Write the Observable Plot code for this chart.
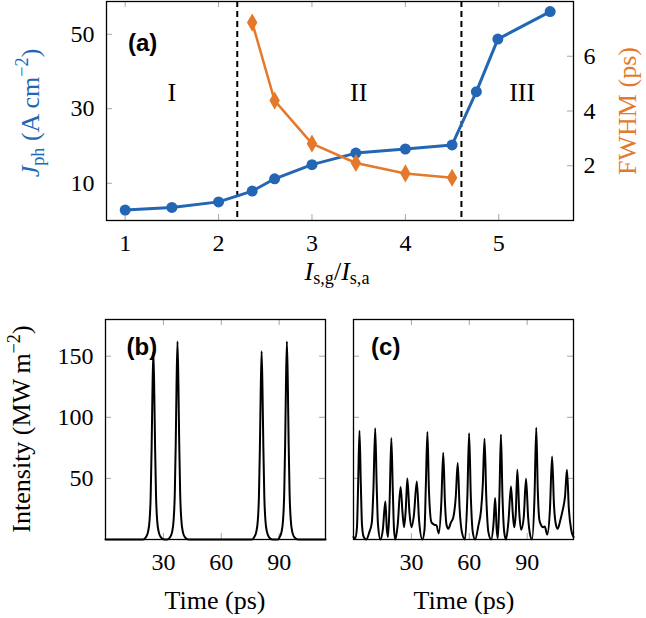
<!DOCTYPE html>
<html><head><meta charset="utf-8">
<script src="https://cdn.jsdelivr.net/npm/d3@7"></script>
<script src="https://cdn.jsdelivr.net/npm/@observablehq/plot@0.6"></script>
<style>
body{margin:0;background:#fff;}
#wrap{position:relative;width:646px;height:618px;overflow:hidden;font-family:'Liberation Serif',serif;}
.panel{position:absolute;}
.lbl{position:absolute;white-space:nowrap;font-size:26px;line-height:1;transform:translate(-50%,-50%);}
.rot{transform:translate(-50%,-50%) rotate(-90deg);}
sub{font-size:70%;vertical-align:-0.25em;}
sup{font-size:70%;vertical-align:0.6em;}
</style></head><body><div id="wrap"></div>
<script>
// ---- Panel (a) data ----
const ratio = [1, 1.5, 2, 2.36, 2.6, 3.0, 3.47, 4.0, 4.5, 4.76, 4.99, 5.55];
const jph   = [2.8, 3.5, 5.0, 7.9, 11.2, 15.0, 18.1, 19.2, 20.3, 34.6, 48.7, 56.1];
const fwhmRatio = [2.36, 2.6, 3.0, 3.47, 4.0, 4.5];
const fwhm      = [7.23, 4.38, 2.81, 2.10, 1.72, 1.56];
const boundaries = [2.2, 4.6];
const regimes = ["I", "II", "III"];
const regimeX = [1.5, 3.5, 5.25];
const regimeY = [34.3, 34.3, 34.3];
const xTicksA = [1, 2, 3, 4, 5];
const jTicks = [10, 30, 50];
const fwhmTicks = [2, 4, 6];
// ---- Panels (b),(c) data ----
const timeTicks = [30, 60, 90];
const intTicks = [50, 100, 150];
const timeB = [0,19.5,21.0,22.0,22.8,23.4,23.9,24.3,24.8,25.3,25.7,26.2,26.8,27.6,28.6,30.5,
  32.0,33.5,34.5,35.3,35.9,36.4,36.8,37.3,37.8,38.2,38.7,39.3,40.1,41.1,43.0,
  76.0,77.1,78.1,78.9,79.5,80.0,80.4,80.9,81.4,81.8,82.3,82.9,83.7,84.7,86.5,
  89.5,90.2,91.2,92.0,92.6,93.1,93.5,94.0,94.5,94.9,95.4,96.0,96.8,97.8,99.8,114];
const intB = [0,0,2,6,15,35,75,118,154,118,75,35,15,6,2,0,
  0,2,6,16,37,79,125,162,125,79,37,16,6,2,0,
  0,2,6,15,35,75,118,154,118,75,35,15,6,2,0,
  0,2,6,16,37,79,125,162,125,79,37,16,6,2,0,0];
const timeC = [0,1.0,1.8,2.4,3.1,3.8,4.4,5.3,6.6,
  8.2,9.5,10.3,11.25,12.0,12.7,14.0,
  15.2,16.5,17.3,17.9,18.7,19.6,20.4,21.0,21.7,
  22.9,24.4,25.4,26.2,27.1,27.9,29.0,30.0,31.3,32.8,34.0,35.7,
  36.8,37.5,38.3,39.1,40.4,42.0,43.0,44.2,
  45.5,46.5,47.4,48.2,49.1,
  50.5,51.7,53.0,54.0,55.0,56.3,57.8,
  59.0,59.9,60.8,61.8,63.0,
  64.8,66.1,67.0,67.9,68.8,69.9,71.3,
  72.6,73.4,74.2,74.8,75.6,76.4,77.2,78.1,79.0,
  80.3,81.6,82.6,83.3,84.1,84.9,85.9,86.9,88.2,89.4,90.5,91.5,92.5,
  93.8,94.7,95.5,96.3,97.3,98.3,99.1,100.4,
  101.8,102.9,103.9,104.9,105.8,
  107.2,108.4,109.6,110.6,111.6,112.8,114.0];
const intC = [2,1,10,45,89,45,12,2,0,
  6,14,40,91,45,12,0,
  8,31,8,2,30,83,38,8,0,
  12,43,22,10,25,50,22,10,20,47.5,15,0,
  8,45,88,40,14,12,11.5,5,
  30,71,30,12,8.7,
  14,18,35,62.6,25,5,0,
  35,87,35,6,0,
  12,24,45,82.5,35,6,0,
  14,34,8,1,35,86,35,6,0,
  15,43.4,20,10,22,57,22,8,18,49.7,18,4,0,
  35,91.5,40,16,11.5,10,10.7,4,
  25,68,28,12,8.7,
  16,24,35,57,25,8,2];

const blue = "#2266b4", orange = "#e5792b", tickGray = "#a6a6a6";
const serif = "'Liberation Serif', serif";
const baseStyle = {fontFamily: serif, fontSize: "24px", color: "black", background: "transparent", overflow: "visible"};
const axText = {fontFamily: serif, fontSize: 24, tickSize: 0, label: null, tickFormat: d3.format("d")};
const wrap = document.getElementById("wrap");
function place(el, left, top) { const d = document.createElement("div"); d.className = "panel"; d.style.left = left + "px"; d.style.top = top + "px"; d.appendChild(el); wrap.appendChild(d); }
function label(html, cx, cy, color, rot) { const d = document.createElement("div"); d.className = "lbl" + (rot ? " rot" : ""); d.style.left = cx + "px"; d.style.top = cy + "px"; d.style.color = color; d.innerHTML = html; wrap.appendChild(d); }

// Panel (a)
const A = {width: 646, height: 300, marginLeft: 106, marginRight: 73, marginTop: 1, marginBottom: 80};
const aW = 646 - 106 - 73, aH = 300 - 1 - 80, tl = 6;
const dataJ = ratio.map((r, i) => ({r, v: jph[i]}));
const dataF = fwhmRatio.map((r, i) => ({r, v: fwhm[i]}));
const pa1 = Plot.plot({
  ...A, style: baseStyle,
  x: {domain: [0.8, 5.8], axis: null}, y: {domain: [0, 58.8], axis: null},
  marks: [
    Plot.ruleX(xTicksA, {stroke: tickGray, strokeWidth: 1, insetTop: aH - tl}),
    Plot.ruleX(xTicksA, {stroke: tickGray, strokeWidth: 1, insetBottom: aH - tl}),
    Plot.ruleY(jTicks, {stroke: tickGray, strokeWidth: 1, insetRight: aW - tl}),
    Plot.ruleX(boundaries, {stroke: "black", strokeWidth: 2, strokeDasharray: "6,4"}),
    Plot.text(regimes, {x: regimeX, y: regimeY, text: d => d, fontSize: 26, fontFamily: serif, lineAnchor: "middle"}),
    Plot.text(["(a)"], {x: [1.03], y: [47.7], text: d => d, textAnchor: "start", lineAnchor: "middle", fontSize: 24, fontWeight: "bold", fontFamily: "'Liberation Sans', Arial, sans-serif"}),
    Plot.line(dataJ, {x: "r", y: "v", stroke: blue, strokeWidth: 3}),
    Plot.dot(dataJ, {x: "r", y: "v", r: 5.5, fill: blue}),
    Plot.frame({stroke: "black", strokeWidth: 1.3}),
    Plot.axisX({...axText, ticks: xTicksA, tickPadding: 13}),
    Plot.axisY({...axText, ticks: jTicks, tickPadding: 12})
  ]
});
place(pa1, 0, 0);
const pa2 = Plot.plot({
  ...A, style: baseStyle,
  x: {domain: [0.8, 5.8], axis: null}, y: {domain: [0, 8], axis: null},
  marks: [
    Plot.ruleY(fwhmTicks, {stroke: tickGray, strokeWidth: 1, insetLeft: aW - tl}),
    Plot.line(dataF, {x: "r", y: "v", stroke: orange, strokeWidth: 2.5}),
    Plot.dot(dataF, {x: "r", y: "v", r: 5.5, symbol: "diamond", fill: orange}),
    Plot.axisY({...axText, ticks: fwhmTicks, anchor: "right", tickPadding: 10})
  ]
});
place(pa2, 0, 0);

// Panels (b), (c)
function pulsePanel(times, vals, tag, tagX, width, ml, mr, showY) {
  const h = 318, mt = 19, mb = 79, iw = width - ml - mr, ih = h - mt - mb;
  const data = times.map((t, i) => ({t, v: vals[i]}));
  const marks = [
    Plot.ruleX(timeTicks, {stroke: tickGray, strokeWidth: 1, insetTop: ih - tl}),
    Plot.ruleX(timeTicks, {stroke: tickGray, strokeWidth: 1, insetBottom: ih - tl}),
    Plot.ruleY(intTicks, {stroke: tickGray, strokeWidth: 1, insetRight: iw - tl}),
    Plot.ruleY(intTicks, {stroke: tickGray, strokeWidth: 1, insetLeft: iw - tl}),
    Plot.text([tag], {x: [tagX], y: [157], text: d => d, textAnchor: "start", lineAnchor: "middle", fontSize: 24, fontWeight: "bold", fontFamily: "'Liberation Sans', Arial, sans-serif"}),
    Plot.line(data, {x: "t", y: "v", stroke: "black", strokeWidth: 2, curve: "monotone-x"}),
    Plot.frame({stroke: "black", strokeWidth: 1.3}),
    Plot.axisX({...axText, ticks: timeTicks, tickPadding: 13})
  ];
  if (showY) marks.push(Plot.axisY({...axText, ticks: intTicks, tickPadding: 12}));
  return Plot.plot({
    width, height: h, marginLeft: ml, marginRight: mr, marginTop: mt, marginBottom: mb,
    style: baseStyle,
    x: {domain: [0, 114], axis: null}, y: {domain: [0, 180], axis: null},
    marks
  });
}
place(pulsePanel(timeB, intB, "(b)", 10.9, 330, 105, 5, true), 0, 300);
place(pulsePanel(timeC, intC, "(c)", 9.1, 316, 23, 73, false), 330, 300);

// Axis titles (HTML text)
label('<i>J</i><sub>ph</sub>&nbsp;(A&#8201;cm<sup>−2</sup>)', 30, 113, blue, true);
label('FWHM (ps)', 628, 111, orange, true);
label('<i>I</i><sub>s,g</sub>/<i>I</i><sub>s,a</sub>', 337, 273, "black", false);
label('Intensity (MW&#8201;m<sup>−2</sup>)', 20, 429, "black", true);
label('Time (ps)', 215, 601, "black", false);
label('Time (ps)', 464, 601, "black", false);
</script></body></html>
